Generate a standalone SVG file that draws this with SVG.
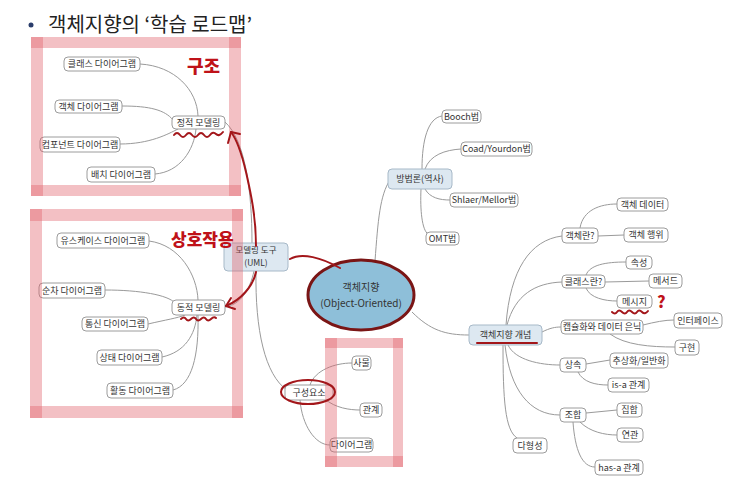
<svg xmlns="http://www.w3.org/2000/svg" width="750" height="477" viewBox="0 0 750 477">
<style>
.n rect{fill:#fff;stroke:#9c9c9c;stroke-width:1}
.b rect{fill:#dde8f1;stroke:#a7b9c8;stroke-width:1}
text{font-family:"Noto Sans CJK KR","Noto Sans",sans-serif}
.t{font-size:9px;fill:#333;text-anchor:middle}
.c path{fill:none;stroke:#9a9a9a;stroke-width:1}
.band{fill:#e1626c;opacity:0.4}
.red{fill:none;stroke:#a3161a;stroke-width:2;stroke-linecap:round;stroke-linejoin:round}
.hw{font-weight:900;fill:#bf1219}
</style>
<rect width="750" height="477" fill="#fff"/>
<circle cx="31" cy="25" r="2.5" fill="#2a3d6b"/>
<text x="48" y="32" font-size="20" fill="#222">객체지향의 ‘학습 로드맵’</text>

<g class="c" id="connectors">
<path d="M140,64 C175,66 197,90 198,116"/>
<path d="M122,106 C150,106 165,110 173,120"/>
<path d="M120,144 C150,144 168,134 178,129"/>
<path d="M155,174 C180,172 194,150 196,129"/>
<path d="M149,241 C180,245 197,275 198,300"/>
<path d="M105,290 C140,290 168,295 175,303"/>
<path d="M148,324 C165,320 178,318 185,315"/>
<path d="M162,357 C185,352 195,335 197,315"/>
<path d="M173,390 C192,385 199,355 198,315"/>
<path d="M252,243 C252,190 245,140 225,122"/>
<path d="M254,271 C250,290 240,305 225,307"/>
<path d="M256,271 C255,330 265,375 287,390"/>
<path d="M375,261 C378,220 380,195 390,180"/>
<path d="M422,169 C422,140 428,118 442,116"/>
<path d="M425,169 C430,155 445,150 461,149"/>
<path d="M425,189 C430,198 440,200 450,200"/>
<path d="M421,189 C420,210 422,230 428,234"/>
<path d="M412,312 C430,330 445,335 469,335"/>
<path d="M506,325 C510,270 530,240 562,236"/>
<path d="M507,325 C515,295 535,283 562,282"/>
<path d="M542,332 C550,328 555,327 561,327"/>
<path d="M508,345 C515,360 540,365 560,365"/>
<path d="M505,345 C510,390 530,415 560,415"/>
<path d="M503,345 C503,400 505,430 517,438"/>
<path d="M580,228 C583,210 600,204 617,204"/>
<path d="M598,236 L624,235"/>
<path d="M586,275 C590,265 605,262 626,262"/>
<path d="M605,282 L649,281"/>
<path d="M586,288 C590,298 605,301 617,301"/>
<path d="M643,325 C655,322 665,320 674,320"/>
<path d="M610,334 C625,345 650,347 675,347"/>
<path d="M586,364 L610,360"/>
<path d="M578,372 C583,382 595,385 608,385"/>
<path d="M586,413 L617,410"/>
<path d="M580,422 C590,432 605,435 617,435"/>
<path d="M573,422 C575,450 582,467 595,467"/>
<path d="M310,385 C315,370 335,363 352,363"/>
<path d="M325,399 C335,408 350,410 360,410"/>
<path d="M300,400 C302,425 315,445 330,445"/>
</g>

<g id="n-class" class="n"><rect x="64" y="57" width="76" height="14" rx="4"/><text class="t" x="102" y="67.2">클래스 다이어그램</text></g>
<g id="n-object" class="n"><rect x="55" y="100" width="67" height="13" rx="4"/><text class="t" x="88.5" y="109.7">객체 다이어그램</text></g>
<g id="n-static" class="n"><rect x="172" y="116" width="53" height="13" rx="4"/><text class="t" x="198.5" y="125.7">정적 모델링</text></g>
<g id="n-component" class="n"><rect x="40" y="137" width="80" height="15" rx="4"/><text class="t" x="80" y="147.7">컴포넌트 다이어그램</text></g>
<g id="n-deploy" class="n"><rect x="87" y="167" width="68" height="15" rx="4"/><text class="t" x="121" y="177.7">배치 다이어그램</text></g>
<g id="n-usecase" class="n"><rect x="57" y="233" width="92" height="15" rx="4"/><text class="t" x="103" y="243.7">유스케이스 다이어그램</text></g>
<g id="n-sequence" class="n"><rect x="39" y="283" width="66" height="15" rx="4"/><text class="t" x="72" y="293.7">순차 다이어그램</text></g>
<g id="n-dynamic" class="n"><rect x="172" y="300" width="53" height="15" rx="4"/><text class="t" x="198.5" y="310.7">동적 모델링</text></g>
<g id="n-comm" class="n"><rect x="82" y="317" width="66" height="14" rx="4"/><text class="t" x="115" y="327.2">통신 다이어그램</text></g>
<g id="n-state" class="n"><rect x="97" y="350" width="65" height="15" rx="4"/><text class="t" x="129.5" y="360.7">상태 다이어그램</text></g>
<g id="n-activity" class="n"><rect x="107" y="383" width="66" height="15" rx="4"/><text class="t" x="140" y="393.7">활동 다이어그램</text></g>
<g id="n-uml" class="b"><rect x="224" y="243" width="64" height="28" rx="4"/><text class="t" x="256" y="253" style="font-size:8.5px">모델링 도구</text><text class="t" x="256" y="266" style="font-size:8.5px">(UML)</text></g>
<g id="n-oo"><ellipse cx="361" cy="295" rx="53" ry="35" fill="#8ebfd9" stroke="#7a1515" stroke-width="3"/><text class="t" x="361" y="291" style="font-size:10px">객체지향</text><text class="t" x="361" y="307" style="font-size:10px">(Object-Oriented)</text></g>
<g id="n-elements" class="n"><rect x="285" y="385" width="48" height="15" rx="4"/><text class="t" x="309" y="395.7">구성요소</text></g>
<g id="n-thing" class="n"><rect x="352" y="356" width="19" height="14" rx="4"/><text class="t" x="361.5" y="366.2">사물</text></g>
<g id="n-relation" class="n"><rect x="360" y="403" width="22" height="14" rx="4"/><text class="t" x="371" y="413.2">관계</text></g>
<g id="n-diagram" class="n"><rect x="330" y="438" width="43" height="14" rx="4"/><text class="t" x="351.5" y="448.2">다이어그램</text></g>
<g id="n-method" class="b"><rect x="388" y="169" width="64" height="20" rx="4"/><text class="t" x="420" y="182.2">방법론(역사)</text></g>
<g id="n-booch" class="n"><rect x="442" y="110" width="39" height="13" rx="4"/><text class="t" x="461.5" y="119.7">Booch법</text></g>
<g id="n-coad" class="n"><rect x="461" y="142" width="71" height="14" rx="4"/><text class="t" x="496.5" y="152.2">Coad/Yourdon법</text></g>
<g id="n-shlaer" class="n"><rect x="450" y="193" width="68" height="14" rx="4"/><text class="t" x="484" y="203.2">Shlaer/Mellor법</text></g>
<g id="n-omt" class="n"><rect x="426" y="232" width="33" height="13" rx="4"/><text class="t" x="442.5" y="241.7">OMT법</text></g>
<g id="n-concept" class="b"><rect x="469" y="325" width="73" height="20" rx="4"/><text class="t" x="505.5" y="338.2">객체지향 개념</text></g>
<g id="n-objwhat" class="n"><rect x="562" y="228" width="36" height="15" rx="4"/><text class="t" x="580" y="238.7">객체란?</text></g>
<g id="n-objdata" class="n"><rect x="617" y="198" width="51" height="13" rx="4"/><text class="t" x="642.5" y="207.7">객체 데이터</text></g>
<g id="n-objact" class="n"><rect x="624" y="228" width="44" height="14" rx="4"/><text class="t" x="646" y="238.2">객체 행위</text></g>
<g id="n-classwhat" class="n"><rect x="562" y="275" width="43" height="13" rx="4"/><text class="t" x="583.5" y="284.7">클래스란?</text></g>
<g id="n-attr" class="n"><rect x="626" y="256" width="26" height="13" rx="4"/><text class="t" x="639" y="265.7">속성</text></g>
<g id="n-methodd" class="n"><rect x="649" y="274" width="33" height="14" rx="4"/><text class="t" x="665.5" y="284.2">메서드</text></g>
<g id="n-message" class="n"><rect x="617" y="295" width="35" height="13" rx="4"/><text class="t" x="634.5" y="304.7">메시지</text></g>
<g id="n-encap" class="n"><rect x="561" y="320" width="82" height="14" rx="4"/><text class="t" x="602" y="330.2">캡슐화와 데이터 은닉</text></g>
<g id="n-interface" class="n"><rect x="674" y="313" width="48" height="15" rx="4"/><text class="t" x="698" y="323.7">인터페이스</text></g>
<g id="n-impl" class="n"><rect x="675" y="340" width="24" height="15" rx="4"/><text class="t" x="687" y="350.7">구현</text></g>
<g id="n-inherit" class="n"><rect x="560" y="358" width="26" height="14" rx="4"/><text class="t" x="573" y="368.2">상속</text></g>
<g id="n-abstract" class="n"><rect x="610" y="353" width="58" height="15" rx="4"/><text class="t" x="639" y="363.7">추상화/일반화</text></g>
<g id="n-isa" class="n"><rect x="608" y="378" width="41" height="14" rx="4"/><text class="t" x="628.5" y="388.2">is-a 관계</text></g>
<g id="n-compose" class="n"><rect x="560" y="408" width="26" height="14" rx="4"/><text class="t" x="573" y="418.2">조합</text></g>
<g id="n-aggr" class="n"><rect x="617" y="403" width="25" height="14" rx="4"/><text class="t" x="629.5" y="413.2">집합</text></g>
<g id="n-assoc" class="n"><rect x="617" y="428" width="26" height="14" rx="4"/><text class="t" x="630" y="438.2">연관</text></g>
<g id="n-poly" class="n"><rect x="513" y="438" width="34" height="15" rx="4"/><text class="t" x="530" y="448.7">다형성</text></g>
<g id="n-hasa" class="n"><rect x="595" y="460" width="48" height="15" rx="4"/><text class="t" x="619" y="470.7">has-a 관계</text></g>

<g id="frames">
<rect class="band" x="31" y="37" width="210" height="11"/>
<rect class="band" x="31" y="185" width="210" height="11"/>
<rect class="band" x="31" y="37" width="12" height="159"/>
<rect class="band" x="229" y="37" width="12" height="159"/>
<rect class="band" x="30" y="209" width="213" height="12"/>
<rect class="band" x="30" y="406" width="213" height="12"/>
<rect class="band" x="30" y="209" width="12" height="209"/>
<rect class="band" x="232" y="209" width="11" height="209"/>
<rect class="band" x="325" y="338" width="78" height="10"/>
<rect class="band" x="325" y="456" width="78" height="11"/>
<rect class="band" x="325" y="338" width="12" height="129"/>
<rect class="band" x="393" y="338" width="10" height="129"/>
</g>

<g id="annotations">
<path class="red" d="M290,259 C302,252 322,258 340,268"/>
<path class="red" d="M256,246 C256,215 250,190 246,172 C242,155 238,141 231,132"/>
<path class="red" d="M228,143 L231,132 L240,134"/>
<path class="red" d="M256,272 C253,286 241,300 226,306"/>
<path class="red" d="M231,298 L226,306 L235,309"/>
<path class="red" d="M174,135 q3,-4 6,0 t6,0 t6,0 t6,0 t6,0 t6,0 t6,-1 t7,-2"/>
<path class="red" d="M181,319 q3,-3 5,0 t5,0 t5,0 t5,0 t5,0 t5,0 t5,-1"/>
<path class="red" d="M612,312 q3,3 5,0 t5,0 t5,0 t5,0 t5,0 t5,0 t6,-1"/>
<line class="red" x1="477" y1="343" x2="537" y2="343"/>
<ellipse class="red" cx="308" cy="392" rx="27" ry="12"/>
<text class="hw" x="187" y="73" font-size="18">구조</text>
<text class="hw" x="171" y="246" font-size="17">상호작용</text>
<text class="hw" x="657" y="308" font-size="16">?</text>
</g>
</svg>
